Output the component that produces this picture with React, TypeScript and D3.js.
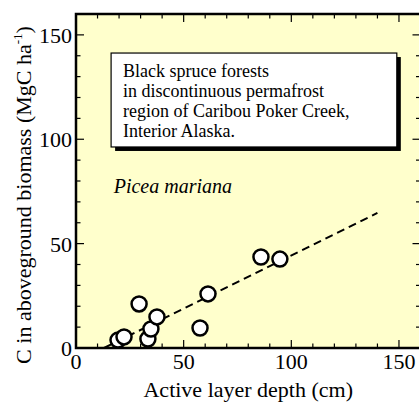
import * as d3 from "d3";

const activeDepth = [19.5, 22.3, 29.3, 33.4, 34.8, 37.6, 57.6, 61.3, 85.9, 94.7];
const biomass = [3.8, 5.3, 21.1, 4.3, 9.1, 14.9, 9.6, 25.9, 43.6, 42.6];

const fitX = [13, 140];
const fitY = [0, 64.7];

const xTicks = [0, 50, 100, 150];
const yTicks = [0, 50, 100, 150];

const noteLines = [
  "Black spruce forests",
  "in discontinuous permafrost",
  "region of Caribou Poker Creek,",
  "Interior Alaska.",
];

const W = 419;
const H = 403;

function T(props: any) {
  const { children, style, ...rest } = props;
  return (
    <text
      {...rest}
      style={{ fontFamily: `"Liberation Serif"`, ...(style || {}) }}
    >
      {children}
    </text>
  );
}

export default function App() {
  const x = d3.scaleLinear().domain([0, 160]).range([76, 420.5]);
  const y = d3.scaleLinear().domain([0, 160]).range([348, 14]);

  const minor = d3.range(0, 161, 10);

  const line = d3
    .line<number>()
    .x((d) => x(d))
    .y((_, i) => y(fitY[i]));

  const points = activeDepth.map((d, i) => ({ x: x(d), y: y(biomass[i]) }));

  // text box, placed in data units
  const bx0 = x(16.3);
  const bx1 = x(149);
  const by0 = y(141.3);
  const by1 = y(96.3);

  return (
    <svg width={W} height={H} style={{ position: "absolute", left: 0, top: 0 }}>
      {/* plot area */}
      <rect
        x={x(0)}
        y={y(160)}
        width={x(160) - x(0)}
        height={y(0) - y(160)}
        fill="#FFFFCC"
        stroke="black"
        strokeWidth={2.5}
      />

      {/* ticks */}
      <g stroke="black" strokeWidth={1.2}>
        {minor.map((t) => {
          const big = t % 50 === 0;
          const len = big ? 8 : 4.5;
          return (
            <g key={t}>
              <line x1={x(t)} x2={x(t)} y1={y(0)} y2={y(0) - len} />
              <line x1={x(t)} x2={x(t)} y1={y(160)} y2={y(160) + len} />
              <line x1={x(0)} x2={x(0) + len} y1={y(t)} y2={y(t)} />
              <line x1={x(160)} x2={x(160) - len} y1={y(t)} y2={y(t)} />
            </g>
          );
        })}
      </g>

      {/* tick labels */}
      {xTicks.map((t) => (
        <T key={"x" + t} x={x(t)} y={369} textAnchor="middle" fontSize={22}>
          {t}
        </T>
      ))}
      {yTicks.map((t) => (
        <T key={"y" + t} x={x(0) - 4} y={y(t) + 8} textAnchor="end" fontSize={22}>
          {t}
        </T>
      ))}

      {/* axis titles */}
      <T x={(x(0) + x(160)) / 2} y={397} textAnchor="middle" fontSize={22}>
        Active layer depth (cm)
      </T>
      <T transform={`translate(31, 195) rotate(-90)`} textAnchor="middle" fontSize={22}>
        C in aboveground biomass (MgC ha
        <tspan dy={-9} fontSize={13}>
          -1
        </tspan>
        <tspan dy={9}>)</tspan>
      </T>

      {/* note box */}
      <rect x={bx0 + 4} y={by0 + 4} width={bx1 - bx0} height={by1 - by0} fill="black" />
      <rect
        x={bx0}
        y={by0}
        width={bx1 - bx0}
        height={by1 - by0}
        fill="white"
        stroke="black"
        strokeWidth={1.2}
      />
      {noteLines.map((l, i) => (
        <T key={i} x={bx0 + 12} y={by0 + 24 + i * 20} fontSize={18}>
          {l}
        </T>
      ))}
      <T x={x(17.5)} y={193} fontSize={20} style={{ fontStyle: "italic" }}>
        Picea mariana
      </T>

      {/* fit line */}
      <path
        d={line(fitX) ?? ""}
        fill="none"
        stroke="black"
        strokeWidth={2}
        strokeDasharray="8,5"
      />

      {/* points */}
      {points.map((p, i) => (
        <circle key={i} cx={p.x} cy={p.y} r={7.5} fill="white" stroke="black" strokeWidth={2.5} />
      ))}
    </svg>
  );
}
